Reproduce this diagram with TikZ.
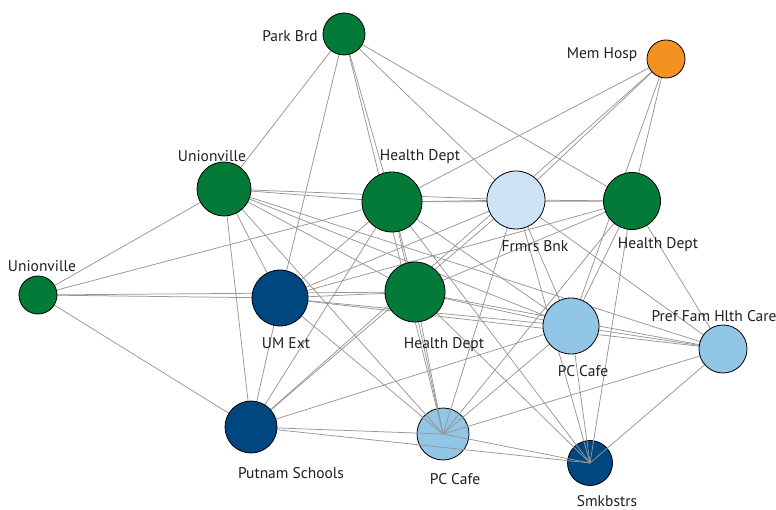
\documentclass[tikz,border=0pt]{standalone}
\usepackage{fontspec}
\setmainfont{PT Sans}
\definecolor{grn}{RGB}{3,122,56}
\definecolor{navy}{RGB}{0,70,128}
\definecolor{sky}{RGB}{145,198,230}
\definecolor{pale}{RGB}{206,226,245}
\definecolor{amber}{RGB}{243,146,32}
\definecolor{tiegray}{RGB}{150,150,150}
\pgfdeclarelayer{bottom}
\pgfdeclarelayer{edges}
\pgfsetlayers{bottom,edges,main}
\begin{document}
\begin{tikzpicture}[x=1pt,y=-1pt,
  actor/.style={circle,draw=black,line width=0.8pt,inner sep=0pt,minimum size=#1},
  tie/.style={draw=tiegray,line width=0.75pt},
  lbl/.style={font=\fontsize{15.5}{17}\selectfont,text=black!88,inner sep=0pt}]
\useasboundingbox (0,0) rectangle (776,510);

% actors
\node[actor=42pt,fill=grn]   (PB) at (344,34)  {};
\node[actor=38pt,fill=amber] (MH) at (666,59)  {};
\node[actor=54pt,fill=grn]   (UU) at (224,189) {};
\node[actor=60pt,fill=grn]   (HT) at (392,202) {};
\node[actor=58pt,fill=pale]  (FB) at (516,200) {};
\node[actor=57pt,fill=grn]   (HR) at (632,201) {};
\node[actor=38pt,fill=grn]   (UL) at (38,295)  {};
\node[actor=56pt,fill=navy]  (UM) at (280,298) {};
\node[actor=60pt,fill=grn]   (HC) at (415,292) {};
\node[actor=56pt,fill=sky]   (PR) at (571,326) {};
\node[actor=48pt,fill=sky]   (PF) at (723,349) {};
\node[actor=52pt,fill=navy]  (PS) at (251,427) {};
\begin{pgfonlayer}{bottom}
\node[actor=52pt,fill=sky]   (CB) at (443,434) {};
\node[actor=45pt,fill=navy]  (SM) at (590,463) {};
\end{pgfonlayer}

% ties
\begin{pgfonlayer}{edges}
\foreach \a/\b in {PB/UU,PB/UM,PB/HT,PB/CB,PB/FB,PB/HR,
  MH/HT,MH/FB,MH/PS,MH/HR,MH/PR,
  UU/UL,UU/HT,UU/FB,UU/PR,UU/PF,UU/HC,UU/CB,UU/UM,UU/PS,
  UL/HT,UL/UM,UL/HC,UL/PS,
  HT/FB,HT/HR,HT/HC,HT/UM,HT/PS,HT/CB,HT/PR,HT/SM,
  FB/HR,FB/PS,FB/PR,FB/PF,FB/SM,FB/CB,FB/UM,
  HR/PF,HR/SM,HR/PR,HR/HC,HR/CB,HR/UM,
  UM/HC,UM/PR,UM/PF,UM/CB,UM/PS,
  HC/PR,HC/PF,HC/CB,HC/SM,
  PR/PF,PR/PS,PR/CB,PR/SM,
  PF/CB,PF/SM,
  PS/CB,PS/SM,
  CB/SM}
  \draw[tie] (\a.center) -- (\b.center);
\end{pgfonlayer}

% labels
\node[lbl] (PBl) at (290,36)  {Park Brd};
\node[lbl] (MHl) at (602,55)  {Mem Hosp};
\node[lbl] (UUl) at (212,156) {Unionville};
\node[lbl] (HTl) at (420,157) {Health Dept};
\node[lbl] (FBl) at (535,246) {Frmrs Bnk};
\node[lbl] (HRl) at (658,245) {Health Dept};
\node[lbl] (ULl) at (42,266)  {Unionville};
\node[lbl] (UMl) at (286,343) {UM Ext};
\node[lbl] (HCl) at (444,345) {Health Dept};
\node[lbl] (PRl) at (583,371) {PC Cafe};
\node[lbl] (PFl) at (714,316) {Pref Fam Hlth Care};
\node[lbl] (PSl) at (291,473) {Putnam Schools};
\node[lbl] (CBl) at (455,479) {PC Cafe};
\node[lbl] (SMl) at (607,501) {Smkbstrs};
\end{tikzpicture}
\end{document}
